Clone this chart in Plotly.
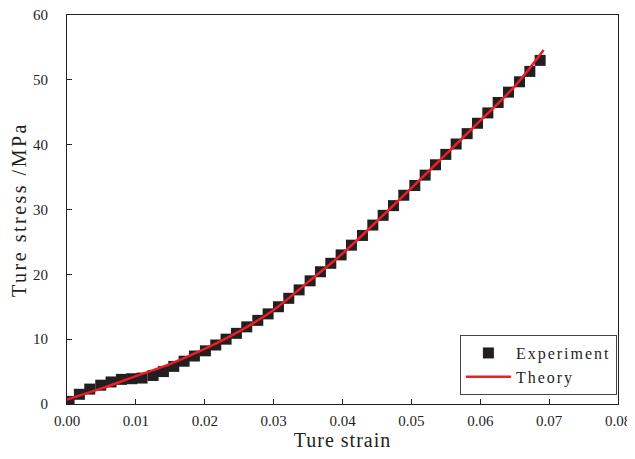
import plotly.graph_objects as go

exp_strain = [0.0003, 0.0018, 0.0033, 0.0049, 0.0064, 0.0079, 0.0094, 0.0109, 0.0125, 0.0140,
              0.0155, 0.0170, 0.0185, 0.0201, 0.0216, 0.0231, 0.0246, 0.0261, 0.0277, 0.0292,
              0.0307, 0.0322, 0.0337, 0.0353, 0.0368, 0.0383, 0.0398, 0.0413, 0.0429, 0.0444,
              0.0459, 0.0474, 0.0489, 0.0505, 0.0520, 0.0535, 0.0550, 0.0565, 0.0581, 0.0596,
              0.0611, 0.0626, 0.0641, 0.0657, 0.0672, 0.0687]
exp_stress = [0.4, 1.5, 2.3, 2.9, 3.4, 3.8, 3.9, 4.0, 4.4, 5.0,
              5.8, 6.6, 7.4, 8.2, 9.1, 10.0, 10.9, 11.9, 12.9, 13.9,
              15.0, 16.3, 17.6, 19.0, 20.4, 21.7, 23.0, 24.5, 26.0, 27.6,
              29.1, 30.6, 32.2, 33.7, 35.3, 36.9, 38.5, 40.1, 41.7, 43.3,
              44.9, 46.5, 48.1, 49.7, 51.3, 53.0]

theory_strain = [0, 0.005, 0.01, 0.015, 0.02, 0.025, 0.03, 0.035, 0.04, 0.045,
                 0.05, 0.055, 0.06, 0.065, 0.0692]
theory_stress = [0.7, 2.4, 4.3, 6.2, 8.5, 11.2, 14.5, 18.8, 23.2, 28.2,
                 33.3, 38.5, 43.7, 49.0, 54.6]

x_title = "Ture strain"
y_title = "Ture stress /MPa"
names = ["Experiment", "Theory"]

FONT = "Liberation Serif, Times New Roman, serif"
INK = "#231f20"


def spaced(text, px):
    return '<span style="letter-spacing:%spx">%s</span>' % (px, text)


fig = go.Figure()
fig.add_trace(go.Scatter(
    x=exp_strain, y=exp_stress, mode="markers", name=spaced(names[0], 2),
    marker=dict(symbol="square", size=11, color=INK, line=dict(width=0)),
))
fig.add_trace(go.Scatter(
    x=theory_strain, y=theory_stress, mode="lines", name=spaced(names[1], 2),
    line=dict(color="#ee1c24", width=2.5, shape="spline"),
))

axis_common = dict(
    showline=True, linecolor=INK, linewidth=1, mirror=True,
    ticks="inside", ticklen=5, tickwidth=1, tickcolor=INK,
    showgrid=False, zeroline=False, automargin=False,
    ticklabeloverflow="allow",
    tickfont=dict(family=FONT, size=15, color=INK),
)

fig.update_xaxes(range=[0, 0.08], dtick=0.01, tickformat=".2f", ticklabelstandoff=3,
                 title=dict(text=spaced(x_title, 1), font=dict(family=FONT, size=20, color=INK), standoff=2),
                 **axis_common)
fig.update_yaxes(range=[0, 60], dtick=10, ticklabelstandoff=15,
                 title=dict(text=spaced(y_title, 2.5), font=dict(family=FONT, size=20, color=INK), standoff=2),
                 **axis_common)

# the page body has an 8px margin, so the figure is sized and margined for that
fig.update_layout(
    width=627, height=451,
    margin=dict(l=59, r=17, t=7, b=55),
    plot_bgcolor="white", paper_bgcolor="white",
    font=dict(family=FONT, color=INK),
    showlegend=True,
    legend=dict(x=0.998, y=0.023, xanchor="right", yanchor="bottom",
                bordercolor="#444444", borderwidth=1, bgcolor="white",
                font=dict(family=FONT, size=16, color=INK),
                tracegroupgap=0, itemwidth=45),
)

fig.write_html("out.html")
